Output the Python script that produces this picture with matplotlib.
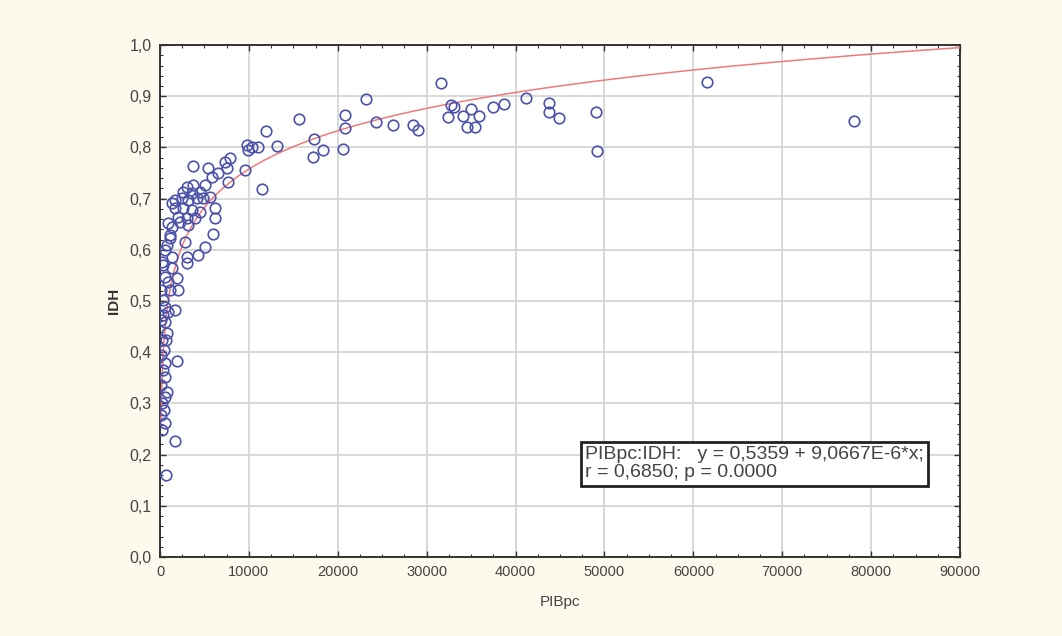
import numpy as np
import matplotlib
matplotlib.use("Agg")
import matplotlib.pyplot as plt
from matplotlib.ticker import MultipleLocator, FuncFormatter

plt.rcParams['font.family'] = ['Liberation Sans', 'DejaVu Sans']

# PIB per capita and IDH
pib = [61540, 78080, 49050, 49160, 41180, 43760, 43760, 44890, 38700, 37460,
       31610, 32740, 33075, 32400, 34090, 34990, 35890, 34540, 35440, 23180,
       24300, 26210, 28460, 29030, 20810, 20810, 20590, 15640, 17330, 17210,
       18340, 11930, 13160, 11030, 10350, 9790, 9900, 9560, 11480, 7880,
       7310, 7540, 6530, 5850, 7650, 3710, 5400, 5060, 3710, 3040,
       4500, 3600, 2590, 1690, 1350, 2480, 3150, 4160, 4840, 5630,
       1690, 2590, 3600, 4500, 6190, 2030, 3040, 3940, 6190, 900,
       1350, 2250, 3150, 5960, 1130, 1130, 2810, 5060, 4280, 3040,
       3040, 560, 1350, 340, 1350, 560, 1910, 900, 2030, 1690,
       560, 340, 560, 790, 1910, 450, 560, 560, 560, 450,
       560, 230, 1690, 680, 110, 340, 230, 110, 340, 110,
       230, 110, 790, 230, 1130, 900, 680, 790, 60]
idh = [0.928, 0.852, 0.869, 0.793, 0.896, 0.887, 0.869, 0.857, 0.885, 0.879,
       0.926, 0.883, 0.879, 0.859, 0.861, 0.875, 0.861, 0.840, 0.840, 0.895,
       0.850, 0.844, 0.844, 0.834, 0.863, 0.838, 0.797, 0.855, 0.816, 0.781,
       0.795, 0.832, 0.803, 0.801, 0.801, 0.805, 0.795, 0.756, 0.719, 0.779,
       0.771, 0.760, 0.750, 0.742, 0.732, 0.764, 0.760, 0.727, 0.727, 0.723,
       0.713, 0.711, 0.713, 0.697, 0.691, 0.701, 0.697, 0.701, 0.701, 0.703,
       0.682, 0.682, 0.678, 0.674, 0.682, 0.664, 0.662, 0.662, 0.662, 0.652,
       0.645, 0.654, 0.648, 0.631, 0.629, 0.623, 0.615, 0.605, 0.590, 0.586,
       0.574, 0.600, 0.586, 0.570, 0.564, 0.547, 0.545, 0.537, 0.521, 0.482,
       0.488, 0.473, 0.459, 0.438, 0.383, 0.404, 0.379, 0.352, 0.313, 0.287,
       0.262, 0.248, 0.227, 0.160, 0.521, 0.502, 0.424, 0.395, 0.365, 0.336,
       0.301, 0.277, 0.609, 0.576, 0.521, 0.479, 0.424, 0.322, 0.463]

# logarithmic fit curve drawn in the chart: y = FIT_A + FIT_B*ln(x)
FIT_A = -0.237
FIT_B = 0.108

eq_text = "PIBpc:IDH:   y = 0,5359 + 9,0667E-6*x;\nr = 0,6850; p = 0.0000"

xs = np.linspace(100, 90000, 2000)
ys = FIT_A + FIT_B * np.log(xs)

bg = '#fdf9ec'
fig = plt.figure(figsize=(10.62, 6.36), dpi=100, facecolor=bg)
ax = fig.add_axes([0.1507, 0.1242, 0.7533, 0.8050])
ax.set_facecolor('white')

ax.plot(xs, ys, color='#f07a7a', lw=1.1, zorder=3)
ax.plot(pib, idh, 'o', mfc='none', mec='#4c52aa', mew=1.2, ms=7.6, zorder=4)

ax.set_xlim(0, 90000)
ax.set_ylim(0, 1.0)
ax.xaxis.set_major_locator(MultipleLocator(10000))
ax.xaxis.set_minor_locator(MultipleLocator(2500))
ax.yaxis.set_major_locator(MultipleLocator(0.1))
ax.yaxis.set_minor_locator(MultipleLocator(0.02))
ax.yaxis.set_major_formatter(FuncFormatter(lambda v, p: f"{v:.1f}".replace('.', ',')))

ax.grid(True, which='major', color='#d6d6d6', lw=1.3)
ax.set_axisbelow(True)
ax.tick_params(which='both', direction='in', top=True, right=True, colors='#333333',
               labelcolor='#444444')
ax.tick_params(axis='x', labelsize=10.5)
ax.tick_params(axis='y', labelsize=11.5)
ax.tick_params(which='major', length=4, width=1, pad=6)
ax.tick_params(which='minor', length=2, width=0.8)
for s in ax.spines.values():
    s.set_color('#333333')
    s.set_linewidth(1.4)

ax.set_xlabel('PIBpc', fontsize=11, color='#444444', labelpad=11)
ax.set_ylabel('IDH', fontsize=11, color='#333333', fontweight='bold', labelpad=6)

ax.text(0.531, 0.182, eq_text, transform=ax.transAxes, fontsize=14, color='#444444',
        va='center', ha='left', linespacing=1.08, zorder=6,
        bbox=dict(boxstyle='square,pad=0.22', fc='white', ec='#222222', lw=2))

plt.savefig('out.png', dpi=100, facecolor=bg)
